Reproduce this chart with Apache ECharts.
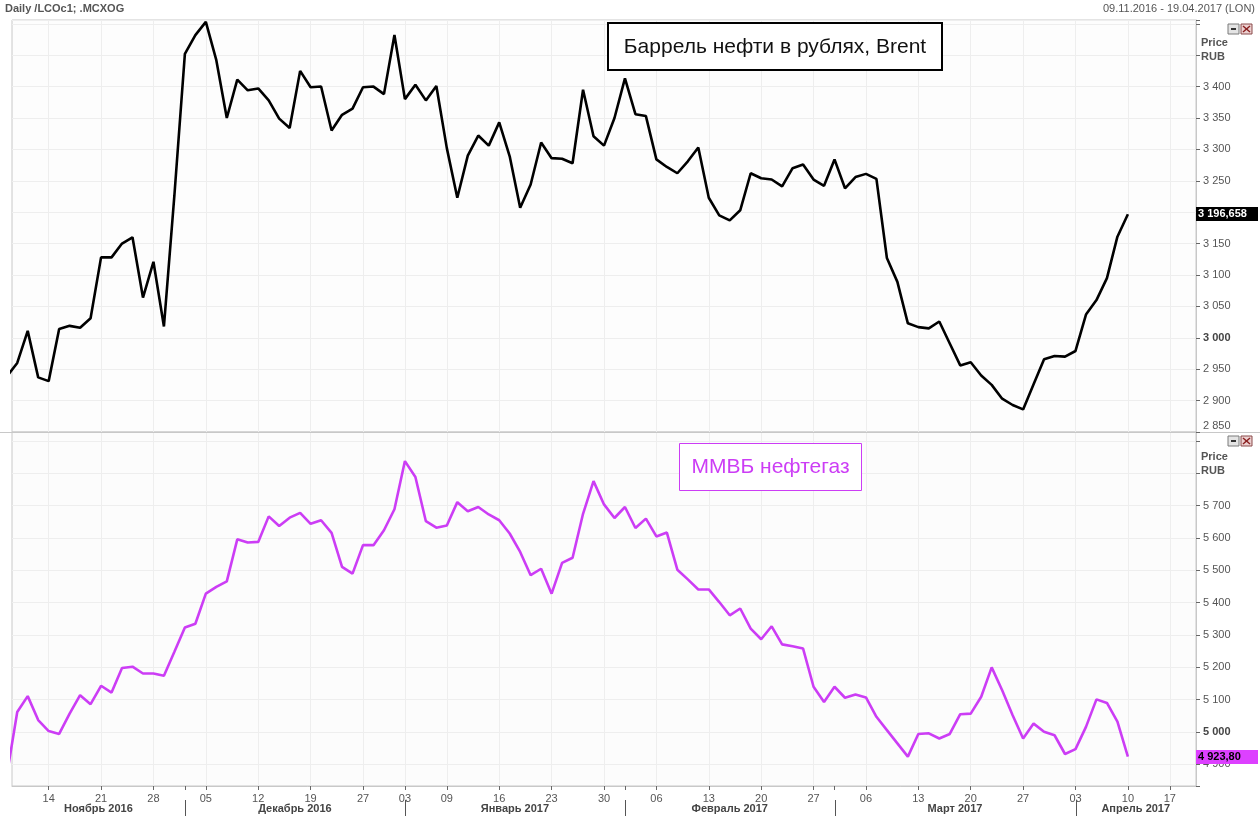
<!DOCTYPE html>
<html><head><meta charset="utf-8">
<script src="https://cdn.jsdelivr.net/npm/echarts@6/dist/echarts.min.js"></script>
<style>html,body{margin:0;padding:0;background:#fff}#c{width:1260px;height:816px}</style>
</head><body><div id="c"></div>
<script>
// ---- data ----
const startDate = '2016-11-08';
const endDate = '2017-04-19';
const holidays = ['2016-12-26', '2017-01-02', '2017-04-14'];
const monthNames = ['Январь','Февраль','Март','Апрель','Май','Июнь','Июль','Август','Сентябрь','Октябрь','Ноябрь','Декабрь'];
const headerLeft = 'Daily /LCOc1; .MCXOG';
const headerRight = '09.11.2016 - 19.04.2017 (LON)';
const titleTop = 'Баррель нефти в рублях, Brent';
const titleBottom = 'ММВБ нефтегаз';
const unitLabel = ['Price', 'RUB'];

// Brent in RUB, trading days from 2016-11-08 to 2017-04-10
const brent = [
 2938, 2960, 3011, 2937, 2931, 3014, 3019, 3016, 3031, 3128, 3128, 3150, 3160, 3064, 3121, 3018, 3227,
 3452, 3482, 3503, 3442, 3350, 3411, 3394, 3397, 3378, 3349, 3334, 3425, 3399, 3400, 3330, 3355, 3365, 3399, 3400, 3388, 3482,
 3380, 3403, 3378, 3401, 3302, 3223, 3290, 3322, 3306, 3343, 3289, 3207, 3244, 3311, 3286, 3285, 3278, 3395, 3321, 3306, 3350,
 3413, 3356, 3353, 3284, 3272, 3262, 3281, 3303, 3223, 3195, 3187, 3203, 3262, 3254, 3252, 3241, 3270, 3276, 3252, 3242,
 3284, 3238, 3256, 3261, 3253, 3127, 3089, 3023, 3017, 3015, 3026, 2991, 2956, 2961, 2940, 2925, 2903, 2893, 2886, 2926, 2966, 2971, 2970,
 2979, 3037, 3060, 3095, 3161, 3196.658
];
// MICEX Oil & Gas index, same days
const mcxog = [
 4865, 5062, 5111, 5037, 5003, 4994, 5057, 5114, 5086, 5143, 5122, 5198, 5202, 5181, 5181, 5174, 5248,
 5323, 5335, 5428, 5449, 5466, 5596, 5586, 5588, 5667, 5637, 5663, 5678, 5644, 5655, 5616, 5511, 5490, 5578, 5578, 5624, 5689,
 5838, 5789, 5652, 5632, 5639, 5711, 5683, 5696, 5673, 5655, 5614, 5557, 5485, 5505, 5428, 5523, 5539, 5675, 5776, 5704, 5662,
 5696, 5631, 5660, 5605, 5617, 5502, 5472, 5441, 5441, 5402, 5361, 5382, 5320, 5287, 5327, 5271, 5265, 5258, 5140, 5093,
 5140, 5106, 5116, 5107, 5047, 5006, 4965, 4924, 4994, 4996, 4980, 4994, 5055, 5057, 5109, 5200, 5129, 5052, 4980, 5026, 5001, 4990, 4932,
 4947, 5016, 5101, 5090, 5032, 4923.80
];
const topAxis = {min: 2850, max: 3506, step: 50, boldAt: 3000, hideAbove: 3400};
const botAxis = {min: 4833, max: 5928, step: 100, boldAt: 5000, hideAbove: 5700};

// ---- helpers ----
function pad(n){ return (n < 10 ? '0' : '') + n; }
function ymd(d){ return d.getUTCFullYear() + '-' + pad(d.getUTCMonth()+1) + '-' + pad(d.getUTCDate()); }
function parse(s){ const p = s.split('-').map(Number); return new Date(Date.UTC(p[0], p[1]-1, p[2])); }
const dates = [];
for (let t = parse(startDate).getTime(); t <= parse(endDate).getTime(); t += 86400000) {
  const d = new Date(t), wd = d.getUTCDay(), s = ymd(d);
  if (wd === 0 || wd === 6 || holidays.indexOf(s) >= 0) continue;
  dates.push(s);
}
const cats = dates.slice(1); // visible axis starts 09.11.2016
function weekStart(ci){
  const cur = parse(dates[ci+1]).getUTCDay(), prev = parse(dates[ci]).getUTCDay();
  return cur <= prev;
}
function monthStart(ci){ return dates[ci+1].slice(5,7) !== dates[ci].slice(5,7); }
function fmtNum(v, dec){
  const s = dec ? v.toFixed(dec) : String(Math.round(v));
  const parts = s.split('.');
  const i = parts[0].replace(/\B(?=(\d{3})+(?!\d))/g, ' ');
  return parts[1] ? i + ',' + parts[1] : i;
}
function yFormatter(ax){
  return function(v){
    if (Math.abs(v/ax.step - Math.round(v/ax.step)) > 1e-6) return '';
    if (v > ax.hideAbove) return '';
    const s = fmtNum(v);
    if (v === ax.boldAt) return '{b|' + s + '}';
    if (v === ax.min) return '{low|' + s + '}';
    return s;
  };
}
const FONT = 'Liberation Sans';
const lblColor = '#555';
const gridLine = '#eeeeee';
const magenta = '#cc3df5';

const brentData = brent.map((v,i)=>[i, v]);
const mcxogData = mcxog.map((v,i)=>[i, v]);

const yLabel = (ax) => ({
  margin: 7, color: lblColor, fontSize: 11, fontFamily: FONT,
  formatter: yFormatter(ax),
  rich: { b: {fontWeight: 'bold', color: '#444', fontSize: 11, fontFamily: FONT},
          low: {padding: [0,0,13,0], color: lblColor, fontSize: 11, fontFamily: FONT} }
});

const chart = echarts.init(document.getElementById('c'), null, {renderer: 'canvas'});
const option = {
  animation: false,
  backgroundColor: '#ffffff',
  textStyle: {fontFamily: FONT},
  grid: [
    {left: 12, right: 64, top: 20, height: 412, show: true, borderColor: '#c8c8c8', borderWidth: 1, backgroundColor: '#fdfdfd'},
    {left: 12, right: 64, top: 432, height: 354, show: true, borderColor: '#c8c8c8', borderWidth: 1, backgroundColor: '#fcfcfc'}
  ],
  xAxis: [
    {type: 'value', gridIndex: 0, min: 0.5, max: cats.length + 0.5, show: false},
    {type: 'category', gridIndex: 0, data: cats, boundaryGap: true,
     axisLine: {show: false}, axisTick: {show: false}, axisLabel: {show: false},
     splitLine: {show: true, interval: (i)=>weekStart(i), alignWithLabel: true, lineStyle: {color: gridLine}}},
    {type: 'value', gridIndex: 1, min: 0.5, max: cats.length + 0.5, show: false},
    {type: 'category', gridIndex: 1, data: cats, boundaryGap: true, position: 'bottom',
     axisLine: {show: true, lineStyle: {color: '#c8c8c8'}},
     axisTick: {show: true, alignWithLabel: true, length: 4, interval: (i)=>weekStart(i) || monthStart(i), lineStyle: {color: '#666'}},
     axisLabel: {interval: (i)=>weekStart(i), formatter: (v)=>v.slice(8), color: lblColor, fontSize: 11, fontFamily: FONT, margin: 7},
     splitLine: {show: true, interval: (i)=>weekStart(i), alignWithLabel: true, lineStyle: {color: gridLine}}}
  ],
  yAxis: [
    {type: 'value', gridIndex: 0, position: 'right', min: topAxis.min, max: topAxis.max, interval: topAxis.step,
     axisLine: {show: true, lineStyle: {color: '#c8c8c8'}},
     axisTick: {show: true, length: 4, lineStyle: {color: '#666'}},
     axisLabel: yLabel(topAxis), splitLine: {show: true, lineStyle: {color: gridLine}}},
    {type: 'value', gridIndex: 1, position: 'right', min: botAxis.min, max: botAxis.max,
     minInterval: botAxis.step, maxInterval: botAxis.step,
     axisLine: {show: true, lineStyle: {color: '#c8c8c8'}},
     axisTick: {show: true, length: 4, lineStyle: {color: '#666'}},
     axisLabel: yLabel(botAxis), splitLine: {show: true, lineStyle: {color: gridLine}}}
  ],
  series: [
    {type: 'line', xAxisIndex: 0, yAxisIndex: 0, data: brentData, showSymbol: false, symbol: 'none',
     lineStyle: {color: '#000', width: 2.6}, clip: true},
    {type: 'line', xAxisIndex: 2, yAxisIndex: 1, data: mcxogData, showSymbol: false, symbol: 'none',
     lineStyle: {color: magenta, width: 2.6}, clip: true}
  ]
};
chart.setOption(option);

// ---- decorations ----
function icons(y){
  return [
    {type: 'rect', shape: {x: 1228, y: y, width: 11, height: 10}, style: {fill: '#e4e4e4', stroke: '#7a7a7a', lineWidth: 1}},
    {type: 'rect', shape: {x: 1231, y: y+4, width: 5, height: 2}, style: {fill: '#333'}},
    {type: 'rect', shape: {x: 1241, y: y, width: 11, height: 10}, style: {fill: '#ecd0d0', stroke: '#8a4a4a', lineWidth: 1}},
    {type: 'line', shape: {x1: 1243, y1: y+2, x2: 1250, y2: y+8}, style: {stroke: '#8a2020', lineWidth: 1.5}},
    {type: 'line', shape: {x1: 1250, y1: y+2, x2: 1243, y2: y+8}, style: {stroke: '#8a2020', lineWidth: 1.5}}
  ];
}
const txt = (x, y, s, o) => Object.assign({type: 'text', x: x, y: y,
  style: Object.assign({text: s, fill: lblColor, font: '11px "' + FONT + '"', textVerticalAlign: 'middle'}, o || {})});

const graphics = [
  {type: 'line', shape: {x1: 0, y1: 432.5, x2: 1260, y2: 432.5}, style: {stroke: '#c8c8c8', lineWidth: 1}},
  txt(5, 9, headerLeft, {font: 'bold 11px "' + FONT + '"', fill: '#555'}),
  txt(1255, 9, headerRight, {textAlign: 'right'}),
  txt(1201, 43, unitLabel[0], {font: 'bold 11px "' + FONT + '"'}),
  txt(1201, 57, unitLabel[1], {font: 'bold 11px "' + FONT + '"'}),
  txt(1201, 457, unitLabel[0], {font: 'bold 11px "' + FONT + '"'}),
  txt(1201, 471, unitLabel[1], {font: 'bold 11px "' + FONT + '"'}),
  {type: 'group', x: 608, y: 23, children: [
    {type: 'rect', shape: {x: 0, y: 0, width: 334, height: 47}, style: {fill: '#fff', stroke: '#000', lineWidth: 2}},
    {type: 'text', x: 167, y: 24, style: {text: titleTop, font: '21px "' + FONT + '"', fill: '#111', textAlign: 'center', textVerticalAlign: 'middle'}}
  ]},
  {type: 'group', x: 679.5, y: 443.5, children: [
    {type: 'rect', shape: {x: 0, y: 0, width: 182, height: 47}, style: {fill: '#fff', stroke: magenta, lineWidth: 1}},
    {type: 'text', x: 91, y: 24, style: {text: titleBottom, font: '21px "' + FONT + '"', fill: magenta, textAlign: 'center', textVerticalAlign: 'middle'}}
  ]}
].concat(icons(24), icons(436));

// last-value boxes on the price axes, placed through the y scales
function lastBox(yAxisIndex, value, dec, bg, fg){
  const y = Math.round(chart.convertToPixel({yAxisIndex: yAxisIndex}, value));
  return [
    {type: 'rect', shape: {x: 1196, y: y - 7, width: 62, height: 14}, style: {fill: bg}, z: 100},
    {type: 'text', x: 1198, y: y, z: 101, style: {text: fmtNum(value, dec), fill: fg,
      font: 'bold 11px "' + FONT + '"', textVerticalAlign: 'middle'}}
  ];
}
lastBox(0, brent[brent.length-1], 3, '#000', '#fff').forEach(g => graphics.push(g));
lastBox(1, mcxog[mcxog.length-1], 2, '#dd40ff', '#000').forEach(g => graphics.push(g));

// month labels and separators from the axis scale
const gridLeftPx = 12, gridRightPx = 1196;
const months = [];
dates.forEach((d, i) => {
  if (i === 0) return;
  const key = d.slice(0,7);
  if (!months.length || months[months.length-1].key !== key) months.push({key: key, first: i});
});
months.forEach((m, k) => {
  const x0 = k === 0 ? gridLeftPx : chart.convertToPixel({xAxisIndex: 2}, m.first);
  const x1 = k === months.length-1 ? gridRightPx : chart.convertToPixel({xAxisIndex: 2}, months[k+1].first);
  const mi = parseInt(m.key.slice(5,7), 10) - 1;
  graphics.push(txt((x0 + x1)/2, 809, monthNames[mi] + ' ' + m.key.slice(0,4),
    {textAlign: 'center', font: 'bold 11px "' + FONT + '"', fill: '#444'}));
  if (k > 0) {
    const xs = Math.round(x0) + 0.5;
    graphics.push({type: 'line', shape: {x1: xs, y1: 800, x2: xs, y2: 816}, style: {stroke: '#555', lineWidth: 1}});
  }
});
chart.setOption({graphic: graphics});
</script>
</body></html>
